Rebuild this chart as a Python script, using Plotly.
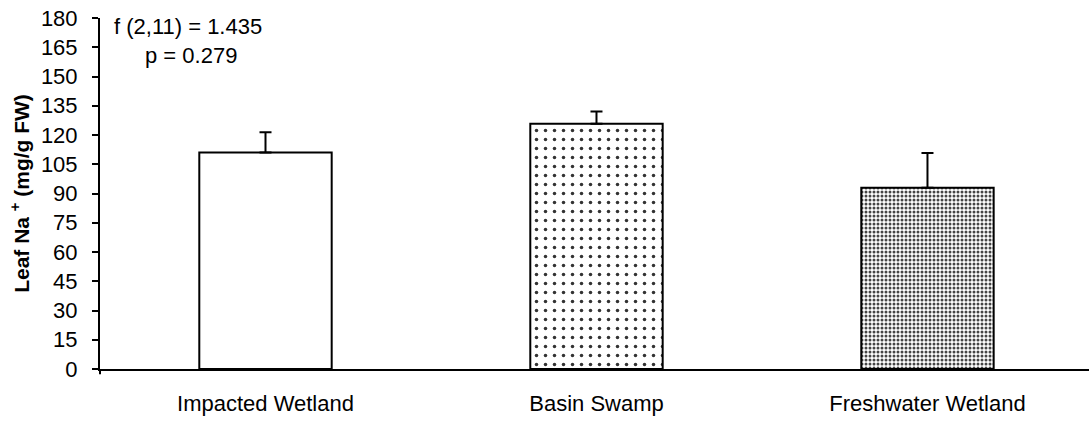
import plotly.graph_objects as go

# Leaf sodium content by site (mean + SE)
sites = ["Impacted Wetland", "Basin Swamp", "Freshwater Wetland"]
leaf_na = [111.0, 125.8, 92.9]
leaf_na_se = [10.4, 6.2, 17.9]

y_ticks = list(range(0, 181, 15))
stats_f = "f (2,11) = 1.435"
stats_p = "p = 0.279"

FONT = "Liberation Sans, Arial, sans-serif"
FS = 22

fig = go.Figure()

patterns = [
    dict(shape=""),
    dict(shape=".", size=9, solidity=0.12, fgcolor="#333333", bgcolor="white", fillmode="replace"),
    dict(shape=".", size=4, solidity=0.45, fgcolor="#444444", bgcolor="white", fillmode="replace"),
]

for i, (site, val, se) in enumerate(zip(sites, leaf_na, leaf_na_se)):
    fig.add_trace(go.Bar(
        x=[site], y=[val],
        width=0.4,
        marker=dict(color="white", line=dict(color="black", width=2), pattern=patterns[i]),
        error_y=dict(type="data", array=[se], arrayminus=[0], symmetric=False,
                     color="black", thickness=2, width=6),
        showlegend=False,
    ))

fig.add_annotation(text=stats_f, xref="paper", yref="y", x=0.012, y=175.4,
                   xanchor="left", yanchor="middle", showarrow=False,
                   font=dict(size=FS, color="black", family=FONT))
fig.add_annotation(text=stats_p, xref="paper", yref="y", x=0.043, y=160.8,
                   xanchor="left", yanchor="middle", showarrow=False,
                   font=dict(size=FS, color="black", family=FONT))

# small tick continuing the y axis below the baseline
fig.add_shape(type="line", xref="paper", yref="paper", x0=0, x1=0, y0=0, y1=-0.015,
              line=dict(color="black", width=2))

fig.update_layout(
    width=1089, height=421,
    margin=dict(l=100, r=0, t=18, b=52),
    plot_bgcolor="white", paper_bgcolor="white",
    font=dict(family=FONT, size=FS, color="black"),
    bargap=0.6,
    xaxis=dict(
        type="category", categoryorder="array", categoryarray=sites,
        range=[-0.5, 2.488],
        showline=True, linecolor="black", linewidth=2,
        ticks="", showgrid=False, zeroline=False,
        tickfont=dict(size=FS, family=FONT, color="black"),
        ticklabelstandoff=14,
    ),
    yaxis=dict(
        range=[0, 180], tickmode="array", tickvals=y_ticks,
        showline=True, linecolor="black", linewidth=2,
        ticks="outside", ticklen=6, tickwidth=2, tickcolor="black",
        ticklabelstandoff=10,
        showgrid=False, zeroline=False,
        tickfont=dict(size=FS, family=FONT, color="black"),
        title=dict(text="<b>Leaf Na <sup>+</sup> (mg/g FW)</b>", standoff=6,
                   font=dict(size=21, family=FONT, color="black")),
    ),
)

fig.write_html("out.html")
